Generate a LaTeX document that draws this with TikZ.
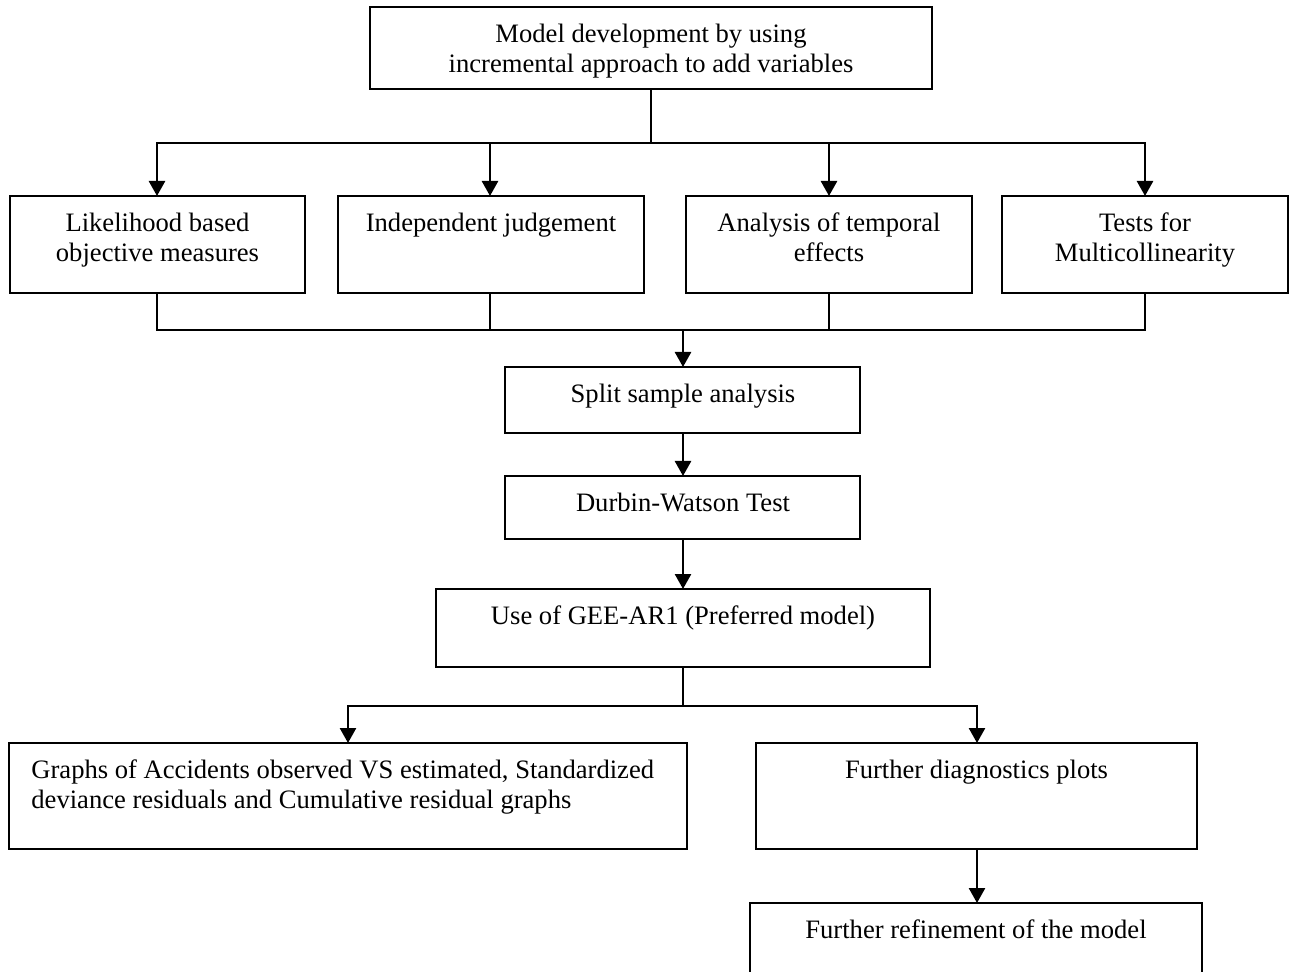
\documentclass[tikz,border=0pt]{standalone}
\usepackage{fontspec}
\setmainfont{Liberation Serif}
\usetikzlibrary{arrows.meta}
\newcommand{\fstrut}{\rule{0pt}{10pt}}
\begin{document}
\begin{tikzpicture}[x=0.5pt,y=-0.5pt,
  box/.style={draw=black,line width=1pt,rectangle,inner sep=0pt},
  txt/.style={inner sep=0pt,align=center,anchor=north,font=\fontsize{13.3}{15}\selectfont},
  txtl/.style={inner sep=0pt,align=left,anchor=north west,font=\fontsize{13.3}{15}\selectfont},
  conn/.style={line width=1.3pt,line cap=rect},
  arr/.style={line width=1.3pt,-{Triangle[length=7.5pt,width=8pt]}}]
\useasboundingbox (0,0) rectangle (1294,972);
% boxes
\path[box] (370,7) rectangle (932,89) node[pos=0.5,draw=none] (top) {};
\coordinate (topS) at (651,89);
\node[txt] (ttop) at (651,22) {\fstrut Model development by using\\incremental approach to add variables};

\draw[box] (10,196) rectangle (305,293);
\draw[box] (338,196) rectangle (644,293);
\draw[box] (686,196) rectangle (972,293);
\draw[box] (1002,196) rectangle (1288,293);
\coordinate (b1N) at (157,196); \coordinate (b1S) at (157,293);
\coordinate (b2N) at (490,196); \coordinate (b2S) at (490,293);
\coordinate (b3N) at (829,196); \coordinate (b3S) at (829,293);
\coordinate (b4N) at (1145,196); \coordinate (b4S) at (1145,293);
\node[txt] (t1) at (157.5,211) {\fstrut Likelihood based\\objective measures};
\node[txt] (t2) at (491,211) {\fstrut Independent judgement};
\node[txt] (t3) at (829,211) {\fstrut Analysis of temporal\\effects};
\node[txt] (t4) at (1145,211) {\fstrut Tests for\\Multicollinearity};

\draw[box] (505,367) rectangle (860,433);
\coordinate (spN) at (683,367); \coordinate (spS) at (683,433);
\node[txt] (tsp) at (683,382) {\fstrut Split sample analysis};

\draw[box] (505,476) rectangle (860,539);
\coordinate (dwN) at (683,476); \coordinate (dwS) at (683,539);
\node[txt] (tdw) at (683,491) {\fstrut Durbin-Watson Test};

\draw[box] (436,589) rectangle (930,667);
\coordinate (geN) at (683,589); \coordinate (geS) at (683,667);
\node[txt] (tge) at (683,604) {\fstrut Use of GEE-AR1 (Preferred model)};

\draw[box] (9,743) rectangle (687,849);
\coordinate (grN) at (348,743);
\node[txtl] (tgr) at (31,758) {\fstrut Graphs of Accidents observed VS estimated, Standardized\\deviance residuals and Cumulative residual graphs};

\draw[box] (756,743) rectangle (1197,849);
\coordinate (fdN) at (977,743); \coordinate (fdS) at (977,849);
\node[txt] (tfd) at (976.5,758) {\fstrut Further diagnostics plots};

\draw[box] (750,903) rectangle (1202,972.5);
\coordinate (frN) at (977,903);
\node[txt] (tfr) at (976,918) {\fstrut Further refinement of the model};

% connectors
\coordinate (j1) at (651,143);
\draw[conn] (topS) -- (j1);
\draw[conn] (157,143) -- (1145,143);
\draw[arr] (157,143) -- (b1N);
\draw[arr] (490,143) -- (b2N);
\draw[arr] (829,143) -- (b3N);
\draw[arr] (1145,143) -- (b4N);

\draw[conn] (b1S) -- (157,330) -- (1145,330) -- (b4S);
\draw[conn] (b2S) -- (490,330);
\draw[conn] (b3S) -- (829,330);
\draw[arr] (683,330) -- (spN);
\draw[arr] (spS) -- (dwN);
\draw[arr] (dwS) -- (geN);
\draw[conn] (geS) -- (683,706);
\draw[conn] (348,706) -- (977,706);
\draw[arr] (348,706) -- (grN);
\draw[arr] (977,706) -- (fdN);
\draw[arr] (fdS) -- (frN);
\end{tikzpicture}
\end{document}
